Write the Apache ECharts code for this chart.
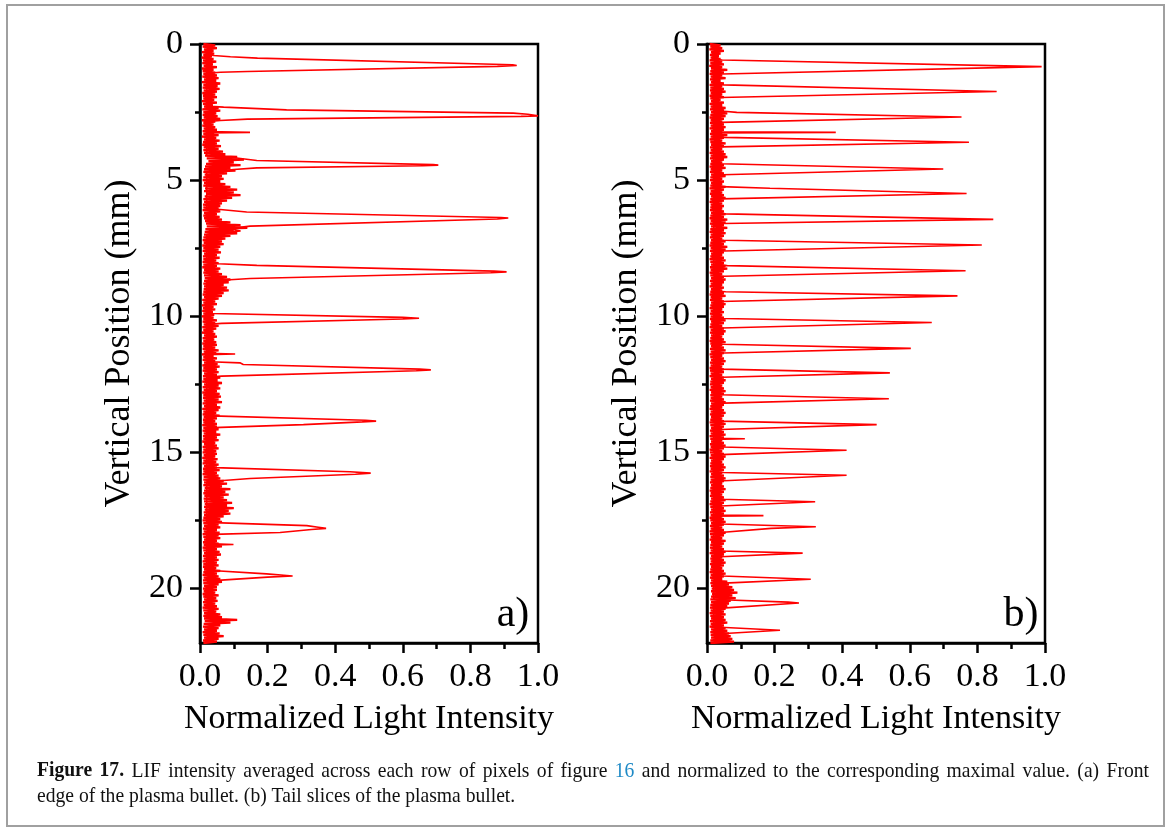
<!DOCTYPE html>
<html><head><meta charset="utf-8">
<script src="https://cdn.jsdelivr.net/npm/echarts@6/dist/echarts.min.js"></script>
<style>html,body{margin:0;padding:0;background:#fff}#c{width:1170px;height:832px}</style>
</head><body><div id="c"></div>
<script>
// ---------------- data ----------------
const ROW_STEP_MM = 0.05;               // spacing of the baseline samples (mm)
const xTickValues = [0, 0.2, 0.4, 0.6, 0.8, 1.0];
const yMajorTicks = [0, 5, 10, 15, 20];
const yMinorTicks = [2.5, 7.5, 12.5, 17.5];
const panelLabels = ['a)', 'b)'];
const xTitle = 'Normalized Light Intensity';
const yTitle = 'Vertical Position (mm)';

// baseline (noise) intensity, one value per 0.05 mm row, panel a
const noiseA = [
0.01,0.045,0.008,0.05,0.012,0.04,0.006,0.042,0.01,0.035,0.005,0.04,0.009,0.048,0.007,0.038,0.011,0.05,0.006,0.04,
0.008,0.045,0.01,0.05,0.007,0.055,0.012,0.048,0.006,0.06,0.01,0.052,0.008,0.058,0.011,0.05,0.007,0.045,0.009,0.05,
0.01,0.042,0.006,0.05,0.009,0.038,0.012,0.055,0.007,0.06,0.01,0.048,0.008,0.052,0.011,0.06,0.006,0.045,0.01,0.04,
0.007,0.045,0.011,0.05,0.008,0.042,0.01,0.055,0.006,0.048,0.012,0.058,0.009,0.05,0.007,0.062,0.011,0.055,0.01,0.068,
0.012,0.075,0.015,0.11,0.02,0.13,0.025,0.1,0.018,0.12,0.015,0.09,0.012,0.105,0.01,0.08,0.014,0.065,0.01,0.07,
0.008,0.06,0.012,0.075,0.01,0.09,0.015,0.11,0.012,0.1,0.018,0.12,0.014,0.095,0.01,0.08,0.012,0.065,0.009,0.06,
0.01,0.055,0.008,0.06,0.012,0.05,0.01,0.058,0.012,0.065,0.015,0.09,0.018,0.12,0.02,0.14,0.016,0.1,0.014,0.11,
0.012,0.09,0.01,0.075,0.008,0.065,0.011,0.07,0.007,0.06,0.01,0.055,0.008,0.062,0.012,0.05,0.009,0.058,0.01,0.048,
0.008,0.055,0.01,0.05,0.007,0.06,0.012,0.055,0.01,0.065,0.012,0.08,0.014,0.09,0.012,0.085,0.01,0.07,0.012,0.08,
0.011,0.085,0.01,0.07,0.008,0.065,0.012,0.055,0.007,0.045,0.01,0.05,0.006,0.04,0.009,0.045,0.007,0.038,0.01,0.042,
0.006,0.04,0.01,0.05,0.008,0.045,0.011,0.055,0.007,0.048,0.01,0.04,0.006,0.045,0.012,0.05,0.008,0.042,0.01,0.048,
0.007,0.05,0.01,0.045,0.008,0.055,0.011,0.048,0.006,0.04,0.01,0.05,0.008,0.045,0.012,0.052,0.007,0.058,0.01,0.05,
0.008,0.055,0.012,0.05,0.009,0.06,0.01,0.052,0.007,0.065,0.012,0.055,0.008,0.06,0.011,0.05,0.007,0.058,0.01,0.062,
0.009,0.055,0.011,0.065,0.008,0.05,0.012,0.06,0.007,0.055,0.01,0.048,0.008,0.058,0.011,0.05,0.009,0.045,0.01,0.05,
0.007,0.05,0.01,0.055,0.008,0.048,0.011,0.06,0.009,0.05,0.01,0.055,0.007,0.045,0.012,0.05,0.008,0.055,0.01,0.048,
0.008,0.05,0.011,0.045,0.007,0.052,0.01,0.048,0.008,0.055,0.012,0.05,0.009,0.058,0.01,0.05,0.008,0.055,0.011,0.06,
0.01,0.07,0.012,0.08,0.01,0.065,0.014,0.09,0.012,0.075,0.01,0.085,0.013,0.07,0.011,0.08,0.012,0.095,0.014,0.08,
0.012,0.1,0.014,0.085,0.011,0.09,0.012,0.07,0.01,0.06,0.008,0.065,0.01,0.055,0.012,0.06,0.009,0.05,0.011,0.058,
0.008,0.055,0.01,0.06,0.012,0.05,0.009,0.055,0.011,0.065,0.008,0.05,0.01,0.058,0.012,0.062,0.009,0.05,0.011,0.055,
0.008,0.05,0.01,0.055,0.009,0.048,0.012,0.06,0.01,0.05,0.008,0.055,0.011,0.06,0.009,0.065,0.01,0.055,0.012,0.05,
0.009,0.05,0.011,0.045,0.008,0.055,0.01,0.048,0.012,0.052,0.009,0.045,0.011,0.05,0.008,0.055,0.01,0.048,0.012,0.06,
0.01,0.065,0.012,0.11,0.014,0.09,0.011,0.06,0.009,0.055,0.012,0.05,0.008,0.058,0.01,0.07,0.012,0.055,0.009,0.05,
0.01
];

// baseline (noise) intensity, one value per 0.05 mm row, panel b
const noiseB = [
0.008,0.04,0.01,0.045,0.007,0.05,0.012,0.04,0.009,0.035,0.011,0.04,0.008,0.045,0.01,0.05,0.007,0.045,0.012,0.06,
0.01,0.05,0.008,0.045,0.011,0.055,0.009,0.04,0.012,0.05,0.008,0.045,0.01,0.05,0.009,0.055,0.011,0.045,0.008,0.05,
0.01,0.04,0.012,0.05,0.008,0.045,0.011,0.055,0.009,0.05,0.012,0.06,0.01,0.055,0.008,0.05,0.011,0.045,0.009,0.05,
0.011,0.055,0.008,0.05,0.012,0.045,0.009,0.06,0.011,0.05,0.008,0.045,0.01,0.055,0.012,0.05,0.009,0.045,0.011,0.05,
0.008,0.055,0.011,0.06,0.009,0.05,0.012,0.045,0.01,0.05,0.008,0.055,0.011,0.045,0.009,0.05,0.012,0.055,0.01,0.045,
0.009,0.05,0.012,0.045,0.01,0.055,0.008,0.05,0.011,0.045,0.009,0.05,0.012,0.055,0.01,0.05,0.008,0.045,0.011,0.05,
0.01,0.045,0.009,0.05,0.012,0.055,0.01,0.05,0.008,0.06,0.011,0.055,0.009,0.05,0.012,0.06,0.01,0.05,0.008,0.055,
0.011,0.05,0.009,0.045,0.012,0.055,0.01,0.05,0.008,0.06,0.011,0.055,0.009,0.05,0.012,0.045,0.01,0.05,0.008,0.055,
0.01,0.05,0.012,0.055,0.009,0.06,0.011,0.05,0.008,0.045,0.01,0.05,0.012,0.055,0.009,0.05,0.011,0.045,0.008,0.05,
0.012,0.045,0.01,0.05,0.008,0.055,0.011,0.045,0.009,0.05,0.012,0.055,0.01,0.05,0.008,0.045,0.011,0.05,0.009,0.045,
0.011,0.05,0.009,0.055,0.012,0.05,0.01,0.045,0.008,0.05,0.011,0.055,0.009,0.05,0.012,0.045,0.01,0.05,0.008,0.055,
0.01,0.045,0.012,0.05,0.009,0.055,0.011,0.05,0.008,0.045,0.01,0.05,0.012,0.055,0.009,0.05,0.011,0.045,0.008,0.05,
0.009,0.05,0.011,0.045,0.008,0.05,0.012,0.055,0.01,0.05,0.009,0.045,0.011,0.05,0.008,0.055,0.012,0.05,0.01,0.045,
0.011,0.05,0.009,0.055,0.012,0.05,0.01,0.045,0.008,0.05,0.011,0.055,0.009,0.05,0.012,0.045,0.01,0.05,0.008,0.055,
0.01,0.05,0.012,0.045,0.009,0.05,0.011,0.055,0.008,0.05,0.01,0.045,0.012,0.05,0.009,0.055,0.011,0.05,0.008,0.045,
0.009,0.05,0.011,0.055,0.008,0.05,0.012,0.045,0.01,0.05,0.009,0.055,0.011,0.05,0.008,0.045,0.012,0.05,0.01,0.055,
0.011,0.05,0.009,0.045,0.012,0.05,0.01,0.055,0.008,0.05,0.011,0.045,0.009,0.05,0.012,0.055,0.01,0.05,0.008,0.045,
0.01,0.05,0.012,0.055,0.009,0.05,0.011,0.045,0.008,0.05,0.01,0.055,0.012,0.05,0.009,0.045,0.011,0.05,0.008,0.055,
0.009,0.05,0.011,0.045,0.008,0.055,0.012,0.05,0.01,0.045,0.009,0.05,0.011,0.055,0.008,0.05,0.012,0.045,0.01,0.05,
0.011,0.055,0.009,0.05,0.012,0.045,0.01,0.05,0.008,0.055,0.011,0.05,0.009,0.045,0.012,0.06,0.01,0.065,0.012,0.075,
0.014,0.08,0.012,0.09,0.015,0.075,0.012,0.085,0.01,0.07,0.012,0.065,0.01,0.06,0.009,0.055,0.011,0.05,0.008,0.055,
0.01,0.05,0.012,0.055,0.009,0.06,0.011,0.05,0.008,0.055,0.012,0.06,0.01,0.065,0.011,0.07,0.012,0.075,0.01,0.08,
0.01
];

// peak outlines: [position (mm), intensity]
const peaksA = [
[0.38,0.02],[0.42,0.04],[0.47,0.09],[0.52,0.17],[0.76,0.925],[0.79,0.937],[0.82,0.88],[1.01,0.14],[1.04,0.06],[1.08,0.02],
[2.25,0.02],[2.29,0.03],[2.32,0.07],[2.42,0.256],[2.54,0.927],[2.58,0.97],[2.64,1.0],[2.66,0.95],[2.76,0.14],[2.81,0.06],[2.85,0.02],
[3.22,0.02],[3.245,0.148],[3.265,0.02],
[4.10,0.02],[4.16,0.09],[4.28,0.168],[4.43,0.69],[4.45,0.705],[4.47,0.66],[4.55,0.168],[4.61,0.10],[4.70,0.02],
[6.04,0.02],[6.08,0.06],[6.17,0.138],[6.37,0.89],[6.39,0.912],[6.43,0.88],[6.69,0.148],[6.78,0.089],[6.87,0.12],[6.95,0.05],[7.00,0.02],
[8.03,0.02],[8.07,0.054],[8.13,0.168],[8.34,0.87],[8.37,0.907],[8.40,0.86],[8.61,0.148],[8.66,0.089],[8.76,0.02],
[9.86,0.02],[9.90,0.035],[10.04,0.60],[10.07,0.648],[10.10,0.60],[10.26,0.064],[10.30,0.02],
[11.36,0.02],[11.385,0.104],[11.41,0.02],
[11.64,0.02],[11.67,0.03],[11.71,0.118],[11.77,0.128],[11.94,0.65],[11.97,0.683],[12.00,0.64],[12.20,0.064],[12.24,0.02],
[13.62,0.02],[13.66,0.035],[13.82,0.49],[13.85,0.521],[13.88,0.48],[13.98,0.306],[14.09,0.04],[14.12,0.02],
[15.53,0.02],[15.56,0.044],[15.71,0.444],[15.76,0.505],[15.80,0.46],[15.96,0.148],[16.04,0.06],[16.08,0.02],
[17.55,0.02],[17.58,0.04],[17.69,0.316],[17.75,0.35],[17.79,0.373],[17.83,0.33],[17.94,0.237],[18.01,0.04],[18.04,0.02],
[18.35,0.02],[18.38,0.099],[18.41,0.02],
[19.31,0.02],[19.34,0.035],[19.46,0.197],[19.54,0.274],[19.58,0.20],[19.71,0.04],[19.74,0.02]
];
const peaksB = [
[0.56,0.02],[0.59,0.045],[0.83,0.99],[1.10,0.045],[1.13,0.02],
[1.47,0.02],[1.50,0.05],[1.745,0.857],[1.965,0.04],[1.99,0.02],
[2.44,0.02],[2.47,0.05],[2.51,0.088],[2.68,0.753],[2.88,0.04],[2.91,0.02],
[3.225,0.02],[3.245,0.381],[3.265,0.02],
[3.40,0.02],[3.43,0.05],[3.61,0.775],[3.78,0.04],[3.81,0.02],
[4.37,0.02],[4.40,0.04],[4.59,0.699],[4.80,0.045],[4.83,0.02],
[5.21,0.02],[5.24,0.04],[5.30,0.186],[5.49,0.768],[5.69,0.04],[5.72,0.02],
[6.21,0.02],[6.24,0.055],[6.44,0.847],[6.59,0.05],[6.62,0.02],
[7.18,0.02],[7.21,0.05],[7.38,0.813],[7.60,0.05],[7.63,0.02],
[8.11,0.02],[8.14,0.06],[8.33,0.765],[8.53,0.05],[8.56,0.02],
[9.07,0.02],[9.10,0.055],[9.25,0.741],[9.46,0.04],[9.49,0.02],
[10.05,0.02],[10.08,0.05],[10.23,0.665],[10.43,0.045],[10.46,0.02],
[11.00,0.02],[11.03,0.045],[11.18,0.603],[11.35,0.05],[11.38,0.02],
[11.91,0.02],[11.94,0.04],[12.08,0.541],[12.24,0.045],[12.27,0.02],
[12.85,0.02],[12.88,0.04],[13.03,0.538],[13.19,0.05],[13.22,0.02],
[13.82,0.02],[13.85,0.04],[13.98,0.502],[14.16,0.04],[14.19,0.02],
[14.48,0.02],[14.50,0.112],[14.52,0.02],
[14.77,0.02],[14.80,0.045],[14.92,0.413],[15.08,0.04],[15.11,0.02],
[15.71,0.02],[15.74,0.045],[15.84,0.413],[16.04,0.05],[16.07,0.02],
[16.69,0.02],[16.72,0.04],[16.81,0.32],[16.97,0.04],[17.00,0.02],
[17.30,0.02],[17.32,0.167],[17.34,0.02],
[17.60,0.02],[17.63,0.04],[17.73,0.322],[17.79,0.19],[17.94,0.04],[17.97,0.02],
[18.59,0.02],[18.62,0.04],[18.70,0.283],[18.83,0.04],[18.86,0.02],
[19.51,0.02],[19.54,0.045],[19.66,0.307],[19.80,0.05],[19.83,0.02],
[20.38,0.02],[20.41,0.045],[20.50,0.24],[20.53,0.272],[20.72,0.045],[20.75,0.02],
[21.39,0.02],[21.42,0.04],[21.53,0.216],[21.66,0.04],[21.69,0.02]
];

// caption words (line 1 is justified); style tags: b = bold, l = link blue
const captionWords1 = [['Figure','b'],['17.','b'],['LIF'],['intensity'],['averaged'],['across'],['each'],['row'],['of'],['pixels'],['of'],['figure'],['16','l'],['and'],['normalized'],['to'],['the'],['corresponding'],['maximal'],['value.'],['(a)'],['Front']];
const captionLine2 = 'edge of the plasma bullet. (b) Tail slices of the plasma bullet.';

// ---------------- chart ----------------
const FONT = "'Liberation Serif', 'Times New Roman', serif";
const RED = '#ff0000';
const CAP_SIZE = 21;
const CAP_X = 37, CAP_LINE1_W = 1112, CAP_EXTRA_SPACE = 2.5;

// measure caption text so that the condensed look + justified first line is reproduced
const mctx = document.createElement('canvas').getContext('2d');
function measure(t, bold) { mctx.font = (bold ? 'bold ' : '') + CAP_SIZE + "px 'Liberation Serif'"; return mctx.measureText(t).width; }
const nGaps = captionWords1.length - 1;
const wordsW = captionWords1.reduce((s, w) => s + measure(w[0], w[1] === 'b'), 0);
const capScale = (CAP_LINE1_W - nGaps * CAP_EXTRA_SPACE) / (wordsW + nGaps * measure(' ', false));
const spaceW = (CAP_LINE1_W / capScale - wordsW) / nGaps;
const captionLine1 = captionWords1.map(w => w[1] ? '{' + w[1] + '|' + w[0] + '}' : w[0]).join('{s| }');

const chart = echarts.init(document.getElementById('c'), null, {renderer: 'canvas'});

const grids = [
  {left: 200, top: 44, width: 338, height: 599},
  {left: 707, top: 44, width: 338, height: 599}
];

function xAxisFor(i) {
  return {
    gridIndex: i, type: 'value', min: 0, max: 1, interval: 0.2,
    axisLine: {show: true, onZero: false, lineStyle: {color: '#000', width: 2.5}},
    axisTick: {show: true, inside: false, length: 10, lineStyle: {color: '#000', width: 2.5}},
    minorTick: {show: true, splitNumber: 2, length: 6, lineStyle: {color: '#000', width: 2.5}},
    splitLine: {show: false},
    axisLabel: {color: '#000', fontFamily: FONT, fontSize: 34, margin: 17,
      formatter: v => (xTickValues.indexOf(+v.toFixed(1)) >= 0 ? v.toFixed(1) : '')},
    name: xTitle, nameLocation: 'middle', nameGap: 59,
    nameTextStyle: {color: '#000', fontFamily: FONT, fontSize: 34}
  };
}
function yAxisFor(i) {
  return {
    gridIndex: i, type: 'value', min: 0, max: 22, inverse: true, position: 'left',
    axisLine: {show: true, onZero: false, lineStyle: {color: '#000', width: 2.5}},
    axisTick: {show: true, inside: false, length: 10, customValues: yMajorTicks, lineStyle: {color: '#000', width: 2.5}},
    splitLine: {show: false},
    axisLabel: {color: '#000', fontFamily: FONT, fontSize: 34, margin: 17, customValues: yMajorTicks},
    name: yTitle, nameLocation: 'middle', nameGap: 62, nameRotate: 90,
    nameTextStyle: {color: '#000', fontFamily: FONT, fontSize: 36}
  };
}
function yMinorAxisFor(i) {
  return {
    gridIndex: i, type: 'value', min: 0, max: 22, inverse: true, position: 'left', offset: 0,
    axisLine: {show: false},
    axisTick: {show: true, inside: false, length: 5, customValues: yMinorTicks, lineStyle: {color: '#000', width: 2.5}},
    axisLabel: {show: false}, splitLine: {show: false}
  };
}

const toNoise = arr => arr.map((v, k) => [v, +(k * ROW_STEP_MM).toFixed(2)]);
const toPeaks = arr => arr.map(p => [p[1], p[0]]);

function lineSeries(i, data, w) {
  return {type: 'line', xAxisIndex: i, yAxisIndex: i * 2, data: data, showSymbol: false,
    symbol: 'none', clip: true, animation: false, silent: true,
    lineStyle: {color: RED, width: w}, itemStyle: {color: RED}};
}

const capRich = {
  b: {fontFamily: FONT, fontSize: CAP_SIZE, fontWeight: 'bold', fill: '#111', color: '#111'},
  l: {fontFamily: FONT, fontSize: CAP_SIZE, fill: '#1f8ac6', color: '#1f8ac6'},
  s: {fontFamily: FONT, fontSize: CAP_SIZE, width: spaceW}
};

const option = {
  backgroundColor: '#fff',
  animation: false,
  grid: grids.map(g => Object.assign({show: true, borderColor: '#000', borderWidth: 2.5, backgroundColor: 'transparent'}, g)),
  xAxis: [xAxisFor(0), xAxisFor(1)],
  yAxis: [yAxisFor(0), yMinorAxisFor(0), yAxisFor(1), yMinorAxisFor(1)],
  series: [
    lineSeries(0, toNoise(noiseA), 2.3),
    lineSeries(0, toPeaks(peaksA), 1.6),
    lineSeries(1, toNoise(noiseB), 2.3),
    lineSeries(1, toPeaks(peaksB), 1.6)
  ],
  graphic: [
    {type: 'rect', shape: {x: 7, y: 5, width: 1157, height: 821}, style: {fill: 'none', stroke: '#a0a0a0', lineWidth: 2}, silent: true},
    {type: 'text', x: 513, y: 615, style: {text: panelLabels[0], fontFamily: FONT, fontSize: 42, fill: '#000', align: 'center', verticalAlign: 'middle'}},
    {type: 'text', x: 1021, y: 615, style: {text: panelLabels[1], fontFamily: FONT, fontSize: 42, fill: '#000', align: 'center', verticalAlign: 'middle'}},
    {type: 'text', x: CAP_X, y: 771, scaleX: capScale, originX: 0,
      style: {text: captionLine1, fontFamily: FONT, fontSize: CAP_SIZE, fill: '#111', align: 'left', verticalAlign: 'middle', rich: capRich}},
    {type: 'text', x: CAP_X, y: 796, scaleX: capScale, originX: 0,
      style: {text: captionLine2, fontFamily: FONT, fontSize: CAP_SIZE, fill: '#111', align: 'left', verticalAlign: 'middle'}}
  ]
};
chart.setOption(option);
</script>
</body></html>
